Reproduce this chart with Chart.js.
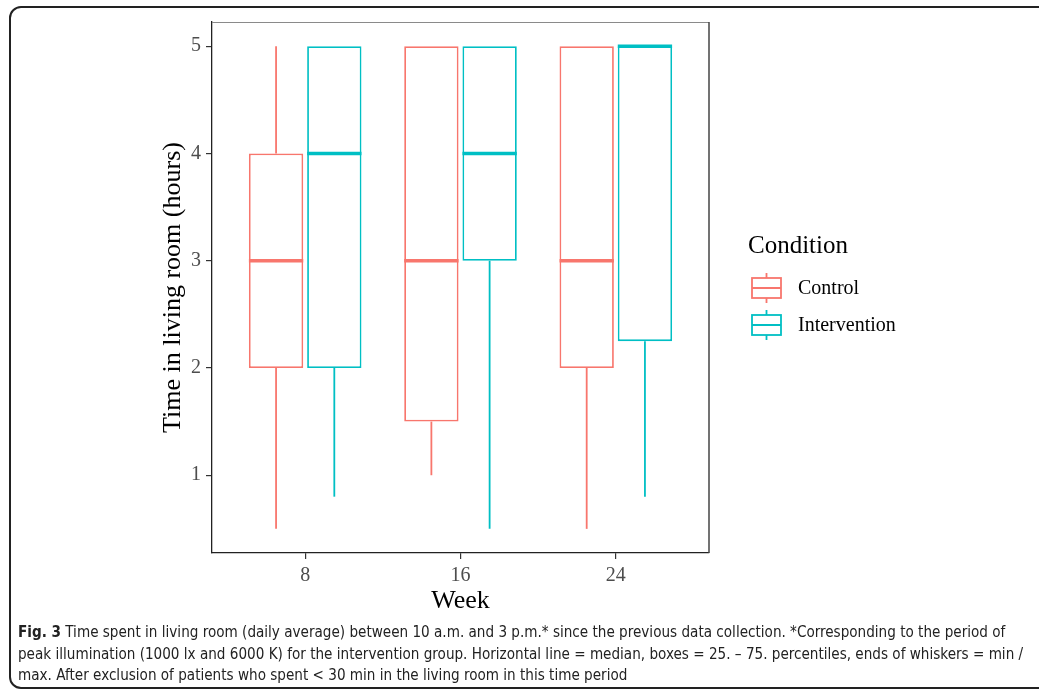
<!DOCTYPE html>
<html>
<head>
<meta charset="utf-8">
<script src="https://cdn.jsdelivr.net/npm/chart.js@4/dist/chart.umd.min.js"></script>
<style>
  html, body { margin: 0; padding: 0; background: #fff; }
  #wrap { position: relative; width: 1039px; height: 689px; overflow: hidden; }
  #frame { position: absolute; left: 9px; top: 6px; width: 1100px; height: 679px;
           border: 2px solid #222; border-radius: 12px; box-sizing: content-box; }
  #c { position: absolute; left: 0; top: 0; }
  #caption { position: absolute; left: 18px; top: 622px; width: 1020px;
             font-family: "Liberation Sans Narrow", "DejaVu Sans Condensed", "Liberation Sans", sans-serif;
             font-size: 15.1px; line-height: 21.5px; color: #222; white-space: nowrap; }
  #caption b { font-weight: bold; }
</style>
</head>
<body>
<div id="wrap">
  <div id="frame"></div>
  <canvas id="c" width="1039" height="689"></canvas>
  <div id="caption"><b>Fig. 3</b> Time spent in living room (daily average) between 10 a.m. and 3 p.m.* since the previous data collection. *Corresponding to the period of<br>peak illumination (1000 lx and 6000 K) for the intervention group. Horizontal line = median, boxes = 25. – 75. percentiles, ends of whiskers = min /<br>max. After exclusion of patients who spent &lt; 30 min in the living room in this time period</div>
</div>
<script>
// ---- data ----
const weeks = ['8', '16', '24'];
const seriesNames = ['Control', 'Intervention'];
const controlMin    = [0.5, 1.0, 0.5];
const controlQ1     = [2.0, 1.5, 2.0];
const controlMedian = [3.0, 3.0, 3.0];
const controlQ3     = [4.0, 5.0, 5.0];
const controlMax    = [5.0, 5.0, 5.0];
const interventionMin    = [0.8, 0.5, 0.8];
const interventionQ1     = [2.0, 3.0, 2.25];
const interventionMedian = [4.0, 4.0, 5.0];
const interventionQ3     = [5.0, 5.0, 5.0];
const interventionMax    = [5.0, 5.0, 5.0];
const yTicks = [1, 2, 3, 4, 5];
const xTicks = [1, 2, 3];

const colors = ['#F8766D', '#00BFC4'];
const stats = [
  { min: controlMin, q1: controlQ1, med: controlMedian, q3: controlQ3, max: controlMax },
  { min: interventionMin, q1: interventionQ1, med: interventionMedian, q3: interventionQ3, max: interventionMax }
];

function boxData(s) {
  return weeks.map((w, i) => ({ x: i + 1, y: [s.q1[i], s.q3[i]] }));
}

const SERIF = "'Liberation Serif', 'Times New Roman', serif";

const boxPlugin = {
  id: 'boxParts',
  afterDatasetsDraw(chart) {
    const ctx = chart.ctx;
    const y = chart.scales.y;
    chart.data.datasets.forEach((ds, d) => {
      const meta = chart.getDatasetMeta(d);
      const s = stats[d];
      meta.data.forEach((bar, i) => {
        const x = bar.x, half = bar.width / 2;
        ctx.save();
        ctx.strokeStyle = colors[d];
        ctx.lineCap = 'butt';
        ctx.lineWidth = 1.8;
        ctx.beginPath();
        ctx.moveTo(x, y.getPixelForValue(s.q3[i]));
        ctx.lineTo(x, y.getPixelForValue(s.max[i]));
        ctx.moveTo(x, y.getPixelForValue(s.q1[i]));
        ctx.lineTo(x, y.getPixelForValue(s.min[i]));
        ctx.stroke();
        ctx.lineWidth = 3.5;
        ctx.beginPath();
        const my = y.getPixelForValue(s.med[i]);
        ctx.moveTo(x - half, my);
        ctx.lineTo(x + half, my);
        ctx.stroke();
        ctx.restore();
      });
    });
  },
  afterDraw(chart) {
    const ctx = chart.ctx;
    const a = chart.chartArea;
    ctx.save();
    ctx.strokeStyle = '#8a8a8a';
    ctx.lineWidth = 1;
    ctx.beginPath();
    ctx.moveTo(a.left, a.top + 0.5);
    ctx.lineTo(a.right, a.top + 0.5);
    ctx.stroke();
    ctx.strokeStyle = '#444';
    ctx.lineWidth = 1.5;
    ctx.beginPath();
    ctx.moveTo(a.right, a.top);
    ctx.lineTo(a.right, a.bottom);
    ctx.stroke();

    const lx = a.right + 40;
    ctx.fillStyle = '#000';
    ctx.font = '25px ' + SERIF;
    ctx.textBaseline = 'middle';
    ctx.textAlign = 'left';
    ctx.fillText('Condition', lx - 1, 246);
    chart.data.datasets.forEach((ds, d) => {
      const cy = 288 + d * 37;
      const bx = lx + 3, bw = 29;
      ctx.strokeStyle = colors[d];
      ctx.lineWidth = 1.8;
      ctx.strokeRect(bx, cy - 10, bw, 20);
      ctx.beginPath();
      ctx.moveTo(bx + bw / 2, cy - 15); ctx.lineTo(bx + bw / 2, cy - 10);
      ctx.moveTo(bx + bw / 2, cy + 10); ctx.lineTo(bx + bw / 2, cy + 15);
      ctx.moveTo(bx, cy); ctx.lineTo(bx + bw, cy);
      ctx.stroke();
      ctx.fillStyle = '#000';
      ctx.font = '20px ' + SERIF;
      ctx.fillText(ds.label, lx + 49, cy + 1);
    });
    ctx.restore();
  }
};

new Chart(document.getElementById('c'), {
  type: 'bar',
  data: {
    datasets: seriesNames.map((name, d) => ({
      label: name,
      data: boxData(stats[d]),
      backgroundColor: '#ffffff',
      borderColor: colors[d],
      borderWidth: 1.8,
      borderSkipped: false,
      categoryPercentage: 0.75,
      barPercentage: 0.933
    }))
  },
  options: {
    responsive: false,
    animation: false,
    events: [],
    layout: { padding: { left: 157.4, top: 22, right: 330, bottom: 72 } },
    plugins: { legend: { display: false }, tooltip: { enabled: false } },
    scales: {
      x: {
        type: 'linear',
        min: 0.4, max: 3.6,
        offset: false,
        afterBuildTicks: (s) => { s.ticks = xTicks.map(v => ({ value: v })); },
        afterFit: (s) => { s.height = 64; },
        ticks: {
          callback: (v) => weeks[v - 1],
          font: { family: SERIF, size: 20 },
          color: '#4D4D4D',
          padding: 5,
          maxRotation: 0
        },
        grid: { display: true, offset: false, drawOnChartArea: false, drawTicks: true, tickLength: 6, color: '#333', lineWidth: 1.2 },
        border: { display: true, color: '#222', width: 1.3 },
        title: { display: true, text: 'Week', font: { family: SERIF, size: 26 }, color: '#000', padding: 0 }
      },
      y: {
        type: 'linear',
        min: 0.275, max: 5.225,
        afterBuildTicks: (s) => { s.ticks = yTicks.map(v => ({ value: v })); },
        afterFit: (s) => { s.width = 212 - 157.4; },
        ticks: {
          font: { family: SERIF, size: 20 },
          color: '#4D4D4D',
          padding: 5
        },
        grid: { display: true, drawOnChartArea: false, drawTicks: true, tickLength: 6, color: '#333', lineWidth: 1.2 },
        border: { display: true, color: '#222', width: 1.3 },
        title: { display: true, text: 'Time in living room (hours)', font: { family: SERIF, size: 26 }, color: '#000', padding: 0 }
      }
    }
  },
  plugins: [boxPlugin]
});
</script>
</body>
</html>
